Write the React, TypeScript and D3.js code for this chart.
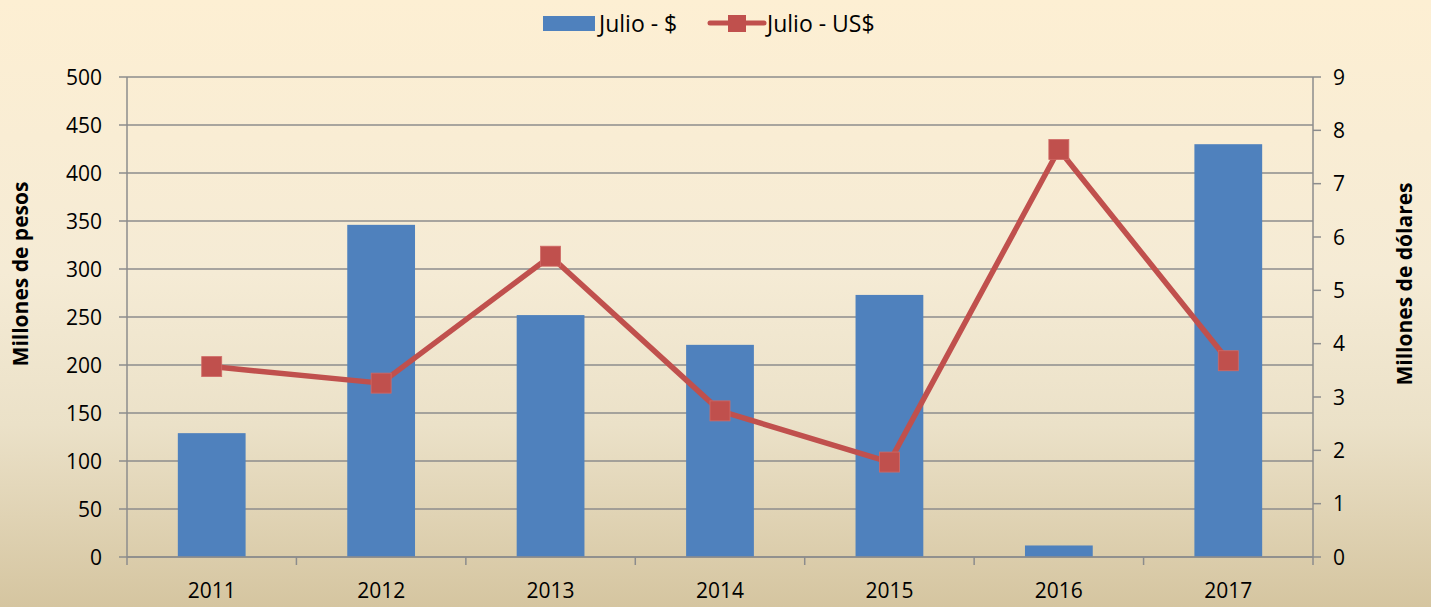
import React from "react";
import * as d3 from "d3";

const categories = ["2011", "2012", "2013", "2014", "2015", "2016", "2017"];
const pesos = [129, 346, 252, 221, 273, 12, 430];
const dolares = [3.57, 3.26, 5.64, 2.74, 1.78, 7.64, 3.68];
const leftTicks = [0, 50, 100, 150, 200, 250, 300, 350, 400, 450, 500];
const rightTicks = [0, 1, 2, 3, 4, 5, 6, 7, 8, 9];
const seriesNames = ["Julio - $", "Julio - US$"];
const axisTitles = ["Millones de pesos", "Millones de dólares"];

const W = 1431;
const H = 607;
const M = { left: 127, right: 1313, top: 77, bottom: 557 };
const FONT = "'Open Sans', Lato, 'Liberation Sans', sans-serif";

export default function App() {
  const x = d3.scaleBand<string>().domain(categories).range([M.left, M.right]).padding(0);
  const yL = d3.scaleLinear().domain([0, 500]).range([M.bottom, M.top]);
  const yR = d3.scaleLinear().domain([0, 9]).range([M.bottom, M.top]);
  const bw = x.bandwidth() * 0.4;
  const cx = (c: string) => (x(c) as number) + x.bandwidth() / 2;
  const line = d3
    .line<number>()
    .x((_, i) => cx(categories[i]))
    .y((d) => yR(d));
  const grey = "#8c8c8c";
  const red = "#C0504D";
  const blue = "#4F81BD";
  const boundaries = categories.map((c) => x(c) as number).concat([M.right]);

  return (
    <svg
      width={W}
      height={H}
      style={{ position: "absolute", left: 0, top: 0, display: "block" }}
      fontFamily={FONT}
    >
      <defs>
        <linearGradient id="bg" x1="0" y1="0" x2="0" y2="1">
          <stop offset="0" stopColor="#FDEFD3" />
          <stop offset="0.45" stopColor="#F5EBD5" />
          <stop offset="0.7" stopColor="#EBE1C8" />
          <stop offset="1" stopColor="#D5C5A0" />
        </linearGradient>
      </defs>
      <rect x={0} y={0} width={W} height={H} fill="url(#bg)" />

      {/* gridlines */}
      {leftTicks.map((t) => (
        <line key={"g" + t} x1={M.left} x2={M.right} y1={yL(t)} y2={yL(t)} stroke={grey} strokeWidth={1.5} />
      ))}

      {/* bars */}
      {categories.map((c, i) => (
        <rect
          key={"b" + c}
          x={cx(c) - bw / 2}
          y={yL(pesos[i])}
          width={bw}
          height={yL(0) - yL(pesos[i])}
          fill={blue}
        />
      ))}

      {/* axes */}
      <line x1={M.left} x2={M.left} y1={M.top} y2={M.bottom} stroke={grey} strokeWidth={1.5} />
      <line x1={M.right} x2={M.right} y1={M.top} y2={M.bottom} stroke={grey} strokeWidth={1.5} />
      <line x1={M.left} x2={M.right} y1={M.bottom} y2={M.bottom} stroke={grey} strokeWidth={1.5} />
      {leftTicks.map((t) => (
        <g key={"lt" + t}>
          <line x1={M.left - 8} x2={M.left} y1={yL(t)} y2={yL(t)} stroke={grey} strokeWidth={1.5} />
          <text x={102} y={yL(t)} dy="0.36em" textAnchor="end" fontSize={21} fill="#000">
            {t}
          </text>
        </g>
      ))}
      {rightTicks.map((t) => (
        <g key={"rt" + t}>
          <line x1={M.right} x2={M.right + 8} y1={yR(t)} y2={yR(t)} stroke={grey} strokeWidth={1.5} />
          <text x={1333} y={yR(t)} dy="0.36em" textAnchor="start" fontSize={21} fill="#000">
            {t}
          </text>
        </g>
      ))}
      {boundaries.map((b, i) => (
        <line key={"bt" + i} x1={b} x2={b} y1={M.bottom} y2={M.bottom + 8} stroke={grey} strokeWidth={1.5} />
      ))}
      {categories.map((c) => (
        <text key={"xl" + c} x={cx(c)} y={598} textAnchor="middle" fontSize={21} fill="#000">
          {c}
        </text>
      ))}

      {/* axis titles */}
      <text
        transform={`translate(28,274) rotate(-90)`}
        textAnchor="middle"
        fontSize={21}
        fontWeight="bold"
        fill="#000"
      >
        {axisTitles[0]}
      </text>
      <text
        transform={`translate(1412,284) rotate(-90)`}
        textAnchor="middle"
        fontSize={21}
        fontWeight="bold"
        fill="#000"
      >
        {axisTitles[1]}
      </text>

      {/* line series */}
      <path d={line(dolares) || ""} fill="none" stroke={red} strokeWidth={5.5} strokeLinejoin="round" />
      {dolares.map((v, i) => (
        <rect
          key={"m" + i}
          x={cx(categories[i]) - 10}
          y={yR(v) - 10}
          width={20}
          height={20}
          fill={red}
          stroke="#d06a66"
          strokeWidth={0.8}
        />
      ))}

      {/* legend */}
      <rect x={543} y={16} width={52} height={15} fill={blue} />
      <text x={599} y={24} dy="0.36em" fontSize={23} fill="#000">
        {seriesNames[0]}
      </text>
      <line x1={710} x2={764} y1={23} y2={23} stroke={red} strokeWidth={5} strokeLinecap="round" />
      <rect x={728} y={15} width={18} height={17} fill={red} />
      <text x={767} y={24} dy="0.36em" fontSize={23} fill="#000">
        {seriesNames[1]}
      </text>
    </svg>
  );
}
